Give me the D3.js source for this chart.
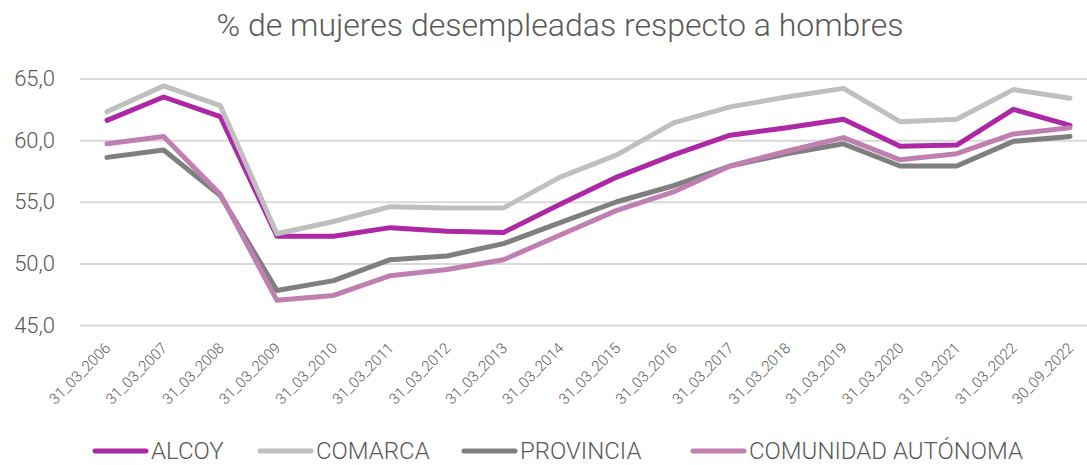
<!DOCTYPE html>
<html>
<head>
<meta charset="utf-8">
<script src="https://cdn.jsdelivr.net/npm/d3@7"></script>
<style>
  body { margin: 0; background: #fff; }
  text { font-family: Roboto, 'Open Sans', sans-serif; font-weight: 300; fill: #595959; }
</style>
</head>
<body>
<div id="chart"></div>
<script>
const fechas = ['31_03_2006', '31_03_2007', '31_03_2008', '31_03_2009', '31_03_2010', '31_03_2011',
  '31_03_2012', '31_03_2013', '31_03_2014', '31_03_2015', '31_03_2016', '31_03_2017',
  '31_03_2018', '31_03_2019', '31_03_2020', '31_03_2021', '31_03_2022', '30_09_2022']

const alcoy = [61.6, 63.5, 61.9, 52.2, 52.2, 52.9, 52.6, 52.5, 54.8, 57.0, 58.8, 60.4, 61.0, 61.7, 59.5, 59.6, 62.5, 61.2]
const comarca = [62.3, 64.4, 62.8, 52.4, 53.4, 54.6, 54.5, 54.5, 57.0, 58.8, 61.4, 62.7, 63.5, 64.2, 61.5, 61.7, 64.1, 63.4]
const provincia = [58.6, 59.2, 55.5, 47.8, 48.6, 50.3, 50.6, 51.6, 53.3, 55.0, 56.3, 57.9, 58.9, 59.7, 57.9, 57.9, 59.9, 60.3]
const comunidad = [59.7, 60.3, 55.6, 47.0, 47.4, 49.0, 49.5, 50.3, 52.3, 54.3, 55.8, 57.9, 59.1, 60.2, 58.4, 58.9, 60.5, 61.0]

const yTicks = [45, 50, 55, 60, 65]

const series = [
  {name: 'ALCOY', values: alcoy, color: '#ae27a5'},
  {name: 'COMARCA', values: comarca, color: '#bfbfbf'},
  {name: 'PROVINCIA', values: provincia, color: '#7f7f7f'},
  {name: 'COMUNIDAD AUTÓNOMA', values: comunidad, color: '#bf7fb0'}
]

const width = 1087
const height = 465
const margin = {left: 80, right: 0}

const svg = d3.select('#chart').append('svg')
  .attr('width', width)
  .attr('height', height)

const x = d3.scalePoint()
  .domain(fechas)
  .range([107, 1070])

const y = d3.scaleLinear()
  .domain([45, 65])
  .range([325, 78.5])

// title
svg.append('text')
  .attr('x', 560)
  .attr('y', 36)
  .attr('text-anchor', 'middle')
  .style('font-size', '32px')
  .text('% de mujeres desempleadas respecto a hombres')

// grid + y labels
const yAxis = g => g
  .attr('transform', `translate(${ margin.left },0)`)
  .call(d3.axisLeft(y).tickValues(yTicks).tickSize(-(width - margin.left)).tickPadding(25)
    .tickFormat(d => d3.format('.1f')(d).replace('.', ',')))
  .call(g => g.select('.domain').remove())
  .call(g => g.selectAll('.tick line').attr('stroke', '#d9d9d9').attr('stroke-width', 2))
  .call(g => g.selectAll('.tick text').style('font-size', '22px').style('fill', '#595959'))

svg.append('g').call(yAxis)

// x labels
const xAxis = g => g
  .attr('transform', 'translate(0,325)')
  .call(d3.axisBottom(x).tickSize(0))
  .call(g => g.select('.domain').remove())
  .selectAll('text')
  .attr('x', 0)
  .attr('y', 0)
  .attr('dy', 0)
  .attr('transform', 'translate(4,24) rotate(-45)')
  .style('text-anchor', 'end')
  .style('font-size', '15px')
  .style('fill', '#595959')

svg.append('g').call(xAxis)

const line = d3.line()
  .x((d, i) => x(fechas[ i ]))
  .y(d => y(d))

svg.append('g')
  .selectAll('path')
  .data(series)
  .enter().append('path')
  .attr('d', d => line(d.values))
  .attr('fill', 'none')
  .attr('stroke', d => d.color)
  .attr('stroke-width', 5)
  .attr('stroke-linejoin', 'round')
  .attr('stroke-linecap', 'round')

// legend
const legendX = [95, 260, 464, 693]
const legend = svg.append('g')
  .selectAll('g')
  .data(series)
  .enter().append('g')
  .attr('transform', (d, i) => `translate(${ legendX[ i ] },451)`)

legend.append('line')
  .attr('x1', 0)
  .attr('x2', 51)
  .attr('stroke', d => d.color)
  .attr('stroke-width', 5)
  .attr('stroke-linecap', 'round')

legend.append('text')
  .attr('x', 56)
  .attr('y', 8)
  .style('font-size', '24px')
  .text(d => d.name)
</script>
</body>
</html>
